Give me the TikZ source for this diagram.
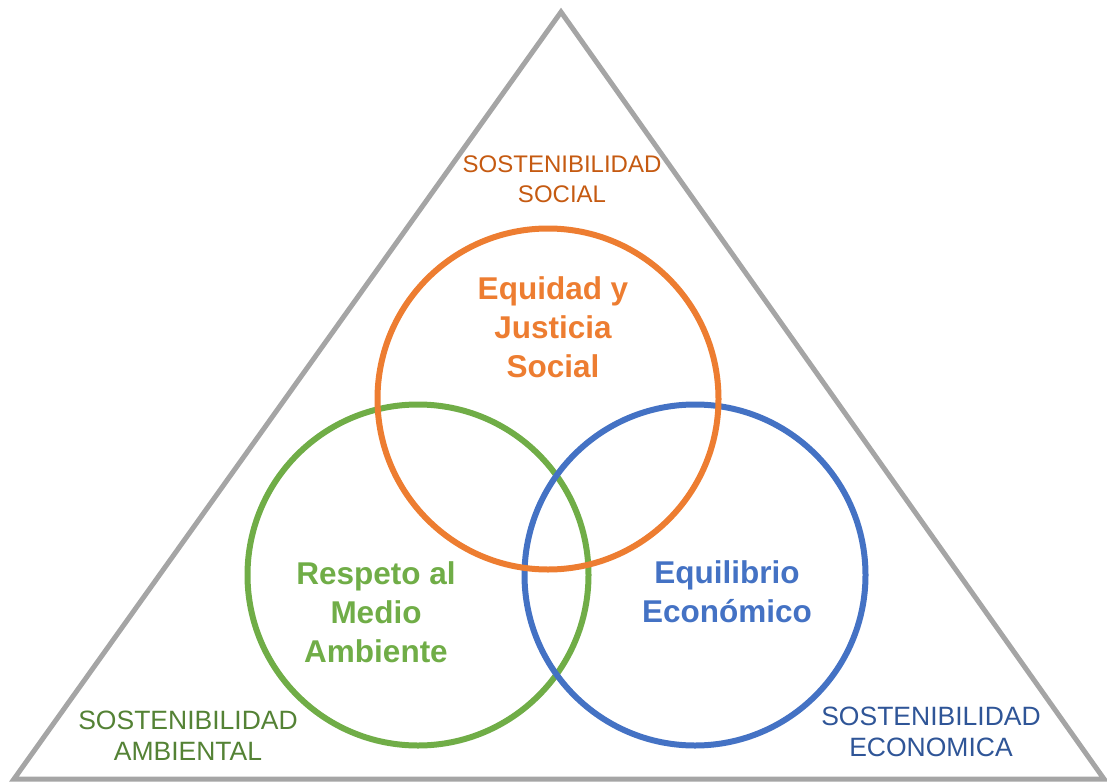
\documentclass[tikz,border=0pt]{standalone}
\usepackage{fontspec}
\setmainfont{Liberation Sans}
\usepackage{tikz}

\definecolor{triangulo}{HTML}{A5A5A5}
\definecolor{social}{HTML}{ED7D31}
\definecolor{ambiental}{HTML}{70AD47}
\definecolor{economica}{HTML}{4472C4}
\definecolor{socialtxt}{HTML}{C55A11}
\definecolor{ambientaltxt}{HTML}{548235}
\definecolor{economicatxt}{HTML}{2F5597}

\tikzset{
  esfera/.style={draw, circle, line width=6pt, minimum size=341pt, inner sep=0pt},
  pilar/.style={align=center, font=\fontsize{24}{30}\selectfont},
  pilarbajo/.style={align=center, font=\fontsize{26.5}{31}\selectfont},
  valor/.style={align=center, font=\fontsize{31.5}{39}\selectfont\bfseries},
}

\begin{document}
\begin{tikzpicture}[x=1pt,y=-1pt]
\useasboundingbox (0,0) rectangle (1107,781);
% triangle of the three pillars
\coordinate (cima) at (561,12);
\coordinate (izq) at (14,779);
\coordinate (der) at (1104,779);
\draw[triangulo, line width=5pt, line join=miter] (cima) -- (izq) -- (der) -- cycle;

% circles
\node[esfera, ambiental] (verde) at (418,575) {};
\node[esfera, economica] (azul) at (695,575) {};
\node[esfera, social] (naranja) at (548,399) {};

% labels inside the circles
\node[valor, social] (equidad) at (553,327) {Equidad y\\Justicia\\Social};
\node[valor, ambiental] (respeto) at (376,612) {Respeto al\\Medio\\Ambiente};
\node[valor, economica] (equilibrio) at (727,592) {Equilibrio\\Económico};

% corner labels
\node[pilar, socialtxt] (sostsocial) at (562,179) {SOSTENIBILIDAD\\SOCIAL};
\node[pilarbajo, ambientaltxt] (sostamb) at (188,736) {SOSTENIBILIDAD\\AMBIENTAL};
\node[pilarbajo, economicatxt] (sosteco) at (931,732) {SOSTENIBILIDAD\\ECONOMICA};
\end{tikzpicture}
\end{document}
